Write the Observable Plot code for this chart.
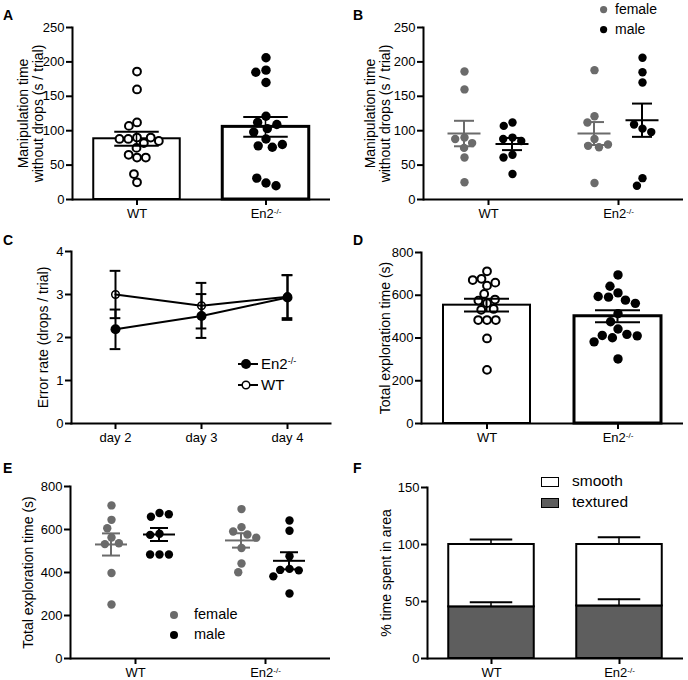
<!DOCTYPE html>
<html><head><meta charset="utf-8">
<script src="https://cdn.jsdelivr.net/npm/d3@7"></script>
<script src="https://cdn.jsdelivr.net/npm/@observablehq/plot@0.6"></script>
<style>
body{margin:0;background:#fff;}
#fig{position:relative;width:688px;height:680px;font-family:"Liberation Sans",Arial,Helvetica,sans-serif;overflow:hidden;background:#fff;color:#000;}
.panel{position:absolute;}
.abs{position:absolute;line-height:1;white-space:nowrap;}
.abs svg{display:block;}
.letter{font-weight:bold;font-size:14px;}
#fig svg g[aria-label$="tick"]{stroke-width:2px;}
#fig svg [aria-label="frame"]{stroke-width:2px;}
#fig svg g[aria-label="y-axis label"]{font-size:14px;}
#fig svg g[aria-label="y-axis tick label"]{font-size:13px;}
#fig svg g[aria-label="fx-axis tick label"], #fig svg g[aria-label="x-axis tick label"]{font-size:13px;}
</style></head>
<body><div id="fig"></div>
<script>
// ---------------- data ----------------
const genotypes = ["WT", "En2-/-"];
const sexes = ["female", "male"];
const manipTicks = [0, 50, 100, 150, 200, 250];
const explTicks = [0, 200, 400, 600, 800];
const errTicks = [0, 1, 2, 3, 4];
const areaTicks = [0, 50, 100, 150];

// manipulation time without drops (s / trial)
const manipWTFemale = [186, 160, 90, 88, 82, 75, 61, 25];
const manipWTMale = [112, 107, 90, 88, 85, 65, 61, 37];
const manipEn2Female = [188, 121, 112, 88, 78, 76, 80, 24];
const manipEn2Male = [206, 185, 170, 103, 109, 98, 31, 20];

// total exploration time (s)
const explWTFemale = [712, 645, 606, 563, 532, 536, 398, 251];
const explWTMale = [677, 659, 671, 580, 575, 484, 484, 484];
const explEn2Female = [695, 611, 591, 577, 562, 514, 442, 401];
const explEn2Male = [642, 594, 476, 417, 412, 410, 382, 302];

// error rate (drops / trial)
const days = ["day 2", "day 3", "day 4"];
const errWTMean = [3.0, 2.74, 2.95];
const errWTSem = [0.55, 0.53, 0.5];
const errEn2Mean = [2.19, 2.5, 2.93];
const errEn2Sem = [0.46, 0.51, 0.52];

// % time spent in area
const areas = ["textured", "smooth"];
const texturedMean = [45.3, 46.1];
const texturedSem = [4.1, 5.9];
const smoothMean = [54.7, 53.9];
const smoothSem = [4.4, 6.4];

// ---------------- helpers ----------------
const FONT = '"Liberation Sans", Arial, Helvetica, sans-serif';
const GREY = "#6b6b6b";
const DARK = "#5e5e5e";
const style = {fontFamily: FONT, fontSize: "13px", color: "black", background: "transparent", overflow: "visible"};

function recs(g, sex, arr) { return arr.map(v => ({g, sex, v})); }
function stats(arr) { return {mean: d3.mean(arr), sem: d3.deviation(arr) / Math.sqrt(arr.length)}; }
function byG(pts) { return genotypes.map(g => ({g, ...stats(pts.filter(d => d.g === g).map(d => d.v))})); }
function byGS(pts) { return genotypes.flatMap(g => sexes.map(sex => ({g, sex, ...stats(pts.filter(d => d.g === g && d.sex === sex).map(d => d.v))}))); }
const lo = d => d.mean - d.sem, hi = d => d.mean + d.sem;

const manipPts = [...recs("WT", "female", manipWTFemale), ...recs("WT", "male", manipWTMale),
  ...recs("En2-/-", "female", manipEn2Female), ...recs("En2-/-", "male", manipEn2Male)];
const explPts = [...recs("WT", "female", explWTFemale), ...recs("WT", "male", explWTMale),
  ...recs("En2-/-", "female", explEn2Female), ...recs("En2-/-", "male", explEn2Male)];

const fig = document.getElementById("fig");
function supers(root) {
  root.querySelectorAll("text, tspan").forEach(el => {
    if (el.children.length === 0 && el.textContent === "En2-/-") {
      el.textContent = "En2";
      const t = document.createElementNS("http://www.w3.org/2000/svg", "tspan");
      t.setAttribute("dy", "-0.45em");
      t.setAttribute("font-size", "0.62em");
      t.textContent = "-/-";
      el.appendChild(t);
    }
  });
  // a little more leading between the two lines of a y-axis label
  root.querySelectorAll('g[aria-label="y-axis label"] text').forEach(t => {
    const sp = t.querySelectorAll("tspan");
    sp.forEach((s, i) => { if (i > 0) s.setAttribute("dy", "1.05em"); });
  });
}
function place(node, left, top) {
  const d = document.createElement("div");
  d.className = "panel";
  d.style.left = left + "px"; d.style.top = top + "px";
  d.appendChild(node);
  fig.appendChild(d);
  supers(node);
}
function addHTML(html, left, top, cls, extra = "") {
  const d = document.createElement("div");
  d.className = "abs " + (cls || "");
  d.style.cssText += `left:${left}px;top:${top}px;${extra}`;
  d.innerHTML = html;
  fig.appendChild(d);
  return d;
}

function yOpts(domain, ticks, label, labelOffset) {
  return {domain, ticks, tickFormat: d3.format("d"), tickSize: 6, tickPadding: 2, line: true, label, labelAnchor: "center", labelOffset, labelArrow: "none"};
}
const fxOpts = {domain: genotypes, padding: 0, label: null, axis: "bottom", tickSize: 6, tickPadding: 3};

// bar + scatter panel (A, D)
function barScatter(pts, o) {
  const summ = byG(pts);
  const fw = (o.width - o.ml - o.mr) / 2;
  const bi = (fw - o.barW) / 2, ci = (fw - o.capW) / 2, li = fw / 2 - 1;
  return Plot.plot({
    width: o.width, height: o.height, marginLeft: o.ml, marginRight: o.mr, marginTop: o.mt, marginBottom: o.mb,
    style, fx: fxOpts, y: yOpts(o.domain, o.ticks, o.label, o.labelOffset),
    marks: [
      Plot.barY(summ.filter(d => d.g === "WT"), {fx: "g", y: "mean", fill: "white", stroke: "black", strokeWidth: 2, insetLeft: bi, insetRight: bi}),
      Plot.barY(summ.filter(d => d.g !== "WT"), {fx: "g", y: "mean", fill: "white", stroke: "black", strokeWidth: 3, insetLeft: bi, insetRight: bi}),
      Plot.ruleY([0], {strokeWidth: 2}),
      Plot.dot(pts.filter(d => d.g === "WT"), Plot.dodgeX("middle", {fx: "g", y: "v", r: 3.9, padding: 2.6, fill: "white", stroke: "black", strokeWidth: 2})),
      Plot.dot(pts.filter(d => d.g !== "WT"), Plot.dodgeX("middle", {fx: "g", y: "v", r: 4.7, padding: 1, fill: "black"})),
      Plot.barY(summ, {fx: "g", y1: lo, y2: hi, fill: "black", insetLeft: li, insetRight: li}),
      Plot.ruleY(summ, {fx: "g", y: hi, strokeWidth: 2, insetLeft: ci, insetRight: ci}),
      Plot.ruleY(summ, {fx: "g", y: lo, strokeWidth: 2, insetLeft: ci, insetRight: ci})
    ]
  });
}

// scatter split by sex panel (B, E)
function sexScatter(pts, o) {
  const summ = byGS(pts);
  const fw = (o.width - o.ml - o.mr) / 2;
  const mi = (fw - o.meanW) / 2, ci = (fw - o.capW) / 2, li = fw / 2 - 1;
  const marks = [Plot.ruleY([0], {strokeWidth: 2})];
  for (const sex of sexes) {
    const color = sex === "female" ? GREY : "black";
    const dx = sex === "female" ? -o.off : o.off;
    const s = summ.filter(d => d.sex === sex), p = pts.filter(d => d.sex === sex);
    marks.push(
      Plot.dot(p, Plot.dodgeX("middle", {fx: "g", y: "v", r: 4.2, padding: 1.4, fill: color, dx})),
      Plot.barY(s, {fx: "g", y1: lo, y2: hi, fill: color, insetLeft: li, insetRight: li, dx}),
      Plot.ruleY(s, {fx: "g", y: "mean", stroke: color, strokeWidth: 2, insetLeft: mi, insetRight: mi, dx}),
      Plot.ruleY(s, {fx: "g", y: hi, stroke: color, strokeWidth: 2, insetLeft: ci, insetRight: ci, dx}),
      Plot.ruleY(s, {fx: "g", y: lo, stroke: color, strokeWidth: 2, insetLeft: ci, insetRight: ci, dx})
    );
  }
  return Plot.plot({
    width: o.width, height: o.height, marginLeft: o.ml, marginRight: o.mr, marginTop: o.mt, marginBottom: o.mb,
    style, fx: fxOpts, y: yOpts(o.domain, o.ticks, o.label, o.labelOffset), marks
  });
}

// ---------------- A ----------------
place(barScatter(manipPts, {width: 340, height: 222, ml: 71, mr: 10, mt: 27, mb: 23, barW: 87, capW: 45,
  domain: [0, 250], ticks: manipTicks, label: "Manipulation time\nwithout drops (s / trial)", labelOffset: 54}), 0, 0);

// ---------------- B ----------------
place(sexScatter(manipPts, {width: 348, height: 222, ml: 83, mr: 5, mt: 27, mb: 23, meanW: 33, capW: 20, off: 24,
  domain: [0, 250], ticks: manipTicks, label: "Manipulation time\nwithout drops (s / trial)", labelOffset: 58}), 340, 0);

// ---------------- C ----------------
const errRows = [
  ...days.map((day, i) => ({g: "WT", day, mean: errWTMean[i], sem: errWTSem[i]})),
  ...days.map((day, i) => ({g: "En2-/-", day, mean: errEn2Mean[i], sem: errEn2Sem[i]}))
];
{
  const W = 340, ml = 71, mr = 10;
  const step = (W - ml - mr) / days.length;
  const ti = (step - 11) / 2;
  place(Plot.plot({
    width: W, height: 226, marginLeft: ml, marginRight: mr, marginTop: 29, marginBottom: 25, style,
    x: {type: "band", domain: days, padding: 0, label: null, tickSize: 6, tickPadding: 3, line: true},
    y: yOpts([0, 4], errTicks, "Error rate (drops / trial)", 33),
    marks: [
      Plot.ruleX(errRows, {x: "day", y1: lo, y2: hi, strokeWidth: 2}),
      Plot.tickY(errRows, {x: "day", y: hi, strokeWidth: 2, insetLeft: ti, insetRight: ti}),
      Plot.tickY(errRows, {x: "day", y: lo, strokeWidth: 2, insetLeft: ti, insetRight: ti}),
      Plot.line(errRows, {x: "day", y: "mean", z: "g", stroke: "black", strokeWidth: 2}),
      Plot.dot(errRows.filter(d => d.g !== "WT"), {x: "day", y: "mean", r: 5, fill: "black"}),
      Plot.dot(errRows.filter(d => d.g === "WT"), {x: "day", y: "mean", r: 3.8, fill: "none", stroke: "black", strokeWidth: 1.5})
    ]
  }), 0, 222);
}

// ---------------- D ----------------
place(barScatter(explPts, {width: 348, height: 226, ml: 81, mr: 5, mt: 30, mb: 25, barW: 87, capW: 45,
  domain: [0, 800], ticks: explTicks, label: "Total exploration time (s)", labelOffset: 41}), 340, 222);

// ---------------- E ----------------
place(sexScatter(explPts, {width: 340, height: 230, ml: 70, mr: 10, mt: 36, mb: 22, meanW: 32, capW: 18, off: 24,
  domain: [0, 800], ticks: explTicks, label: "Total exploration time (s)", labelOffset: 47}), 0, 450);

// ---------------- F ----------------
const areaRows = genotypes.flatMap((g, i) => [
  {g, area: "textured", mean: texturedMean[i], sem: texturedSem[i]},
  {g, area: "smooth", mean: smoothMean[i], sem: smoothSem[i]}
]);
const areaErr = genotypes.flatMap((g, i) => [
  {g, top: texturedMean[i], sem: texturedSem[i]},
  {g, top: texturedMean[i] + smoothMean[i], sem: smoothSem[i]}
]);
{
  const W = 348, ml = 86, mr = 5;
  const fw = (W - ml - mr) / 2;
  const bi = (fw - 86) / 2, ci = (fw - 43) / 2, li = fw / 2 - 1;
  place(Plot.plot({
    width: W, height: 230, marginLeft: ml, marginRight: mr, marginTop: 37, marginBottom: 22, style,
    fx: fxOpts, y: yOpts([0, 150], areaTicks, "% time spent in area", 46),
    color: {domain: areas, range: [DARK, "white"]},
    marks: [
      Plot.barY(areaRows, Plot.stackY({fx: "g", y: "mean", fill: "area", stroke: "black", strokeWidth: 2, insetLeft: bi, insetRight: bi})),
      Plot.barY(areaErr, {fx: "g", y1: "top", y2: d => d.top + d.sem, fill: "black", insetLeft: li, insetRight: li}),
      Plot.ruleY(areaErr, {fx: "g", y: d => d.top + d.sem, strokeWidth: 2, insetLeft: ci, insetRight: ci}),
      Plot.ruleY([0], {strokeWidth: 2})
    ]
  }), 340, 450);
}

// ---------------- letters ----------------
addHTML("A", 3, 8, "letter");
addHTML("B", 353, 8, "letter");
addHTML("C", 3, 233, "letter");
addHTML("D", 353, 233, "letter");
addHTML("E", 3, 461, "letter");
addHTML("F", 353, 461, "letter");

// ---------------- legends ----------------
function dotItem(cx, cy, r, color, label, tx, fs) {
  addHTML(`<svg width="${2 * r + 2}" height="${2 * r + 2}"><circle cx="${r + 1}" cy="${r + 1}" r="${r}" fill="${color}"/></svg>`, cx - r - 1, cy - r - 1, "");
  addHTML(label, tx, cy - fs / 2 - 1, "", `font-size:${fs}px;`);
}
// B legend
dotItem(604, 10, 3.6, GREY, "female", 615, 14);
dotItem(604, 30, 3.6, "black", "male", 615, 14);
// E legend
dotItem(174, 615, 4, GREY, "female", 194, 14.5);
dotItem(174, 635, 4, "black", "male", 194, 14.5);
// C legend
addHTML(`<svg width="22" height="12"><line x1="1" y1="6" x2="21" y2="6" stroke="black" stroke-width="2"/><circle cx="9" cy="6" r="5" fill="black"/></svg>`, 237, 358, "");
addHTML(`En2<sup style="font-size:0.6em;vertical-align:0.6em">-/-</sup>`, 261, 356, "", "font-size:15px;");
addHTML(`<svg width="22" height="12"><line x1="1" y1="6" x2="21" y2="6" stroke="black" stroke-width="2"/><circle cx="9" cy="6" r="3.8" fill="white" stroke="black" stroke-width="1.5"/></svg>`, 237, 379, "");
addHTML("WT", 261, 377, "", "font-size:15px;");
// F legend
addHTML(`<div style="width:16px;height:8px;border:1.5px solid black;background:white"></div>`, 541, 477, "");
addHTML("smooth", 572, 473, "", "font-size:15.5px;");
addHTML(`<div style="width:16px;height:8px;border:1.5px solid black;background:${DARK}"></div>`, 541, 498, "");
addHTML("textured", 572, 494, "", "font-size:15.5px;");
</script>
</body></html>
